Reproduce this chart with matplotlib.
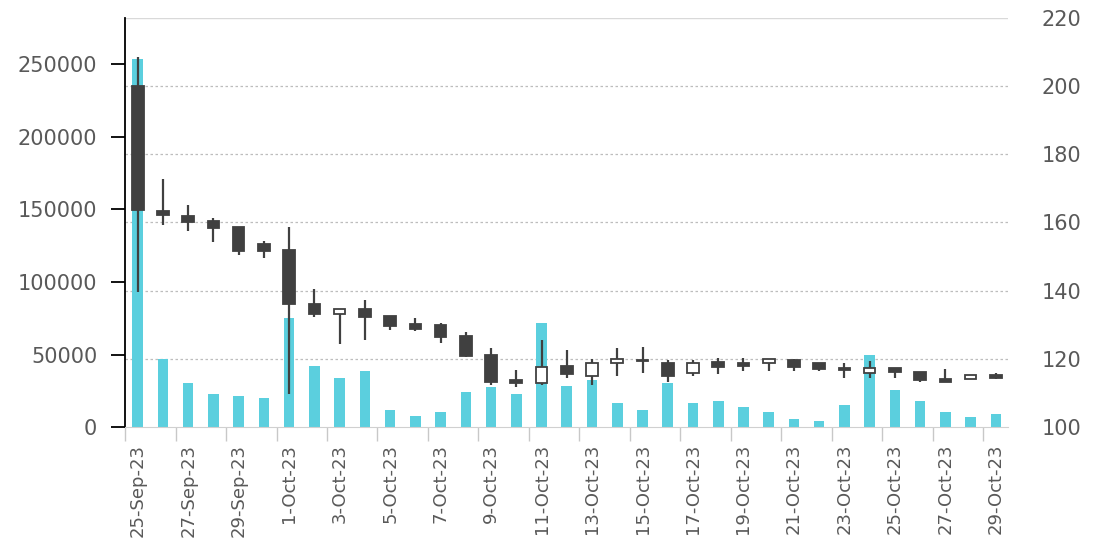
import numpy as np
import pandas as pd
import matplotlib
matplotlib.use("Agg")
import matplotlib.pyplot as plt

# 日期（类别）
dates = pd.date_range("2023-09-25", "2023-10-29", freq="D")
date_labels = [d.strftime("%-d-%b-%y") for d in dates]

# 成交量（左轴）
volume = [254000, 46800, 30100, 22500, 21300, 20200, 75500, 42200, 33500, 38600,
          11500, 7800, 10100, 23900, 27300, 22500, 71800, 28500, 32400, 16300,
          11700, 30100, 16300, 17900, 14000, 10100, 5500, 4100, 15200, 49600,
          25300, 17900, 10100, 6700, 9200]

# K线（右轴）
open_ = [200.0, 163.4, 161.9, 160.4, 158.7, 153.6, 151.9, 136.1, 133.3, 134.6,
         132.6, 130.2, 129.9, 126.8, 121.1, 113.8, 113.0, 117.9, 115.0, 118.7,
         119.8, 118.9, 115.9, 119.1, 118.7, 118.7, 119.6, 118.9, 117.4, 116.0,
         117.4, 116.2, 114.1, 114.0, 115.2]
high = [208.6, 172.7, 165.1, 161.2, 158.7, 154.7, 158.7, 140.5, 134.5, 137.2,
        132.6, 132.1, 130.4, 128.0, 123.1, 116.7, 125.5, 122.6, 119.9, 123.1,
        123.5, 119.8, 119.6, 120.4, 120.4, 119.9, 119.9, 118.9, 118.9, 119.4,
        117.4, 116.2, 116.9, 115.2, 116.0]
low = [139.5, 159.4, 157.5, 154.3, 150.4, 149.5, 109.6, 132.3, 124.5, 125.5,
       128.4, 128.2, 124.8, 120.6, 112.3, 111.8, 112.3, 114.3, 112.3, 115.0,
       115.9, 113.3, 115.0, 115.5, 116.4, 116.4, 116.4, 116.4, 114.5, 114.5,
       114.5, 113.3, 113.3, 114.0, 114.1]
close = [163.6, 162.2, 160.0, 158.4, 151.7, 151.7, 136.0, 133.3, 134.5, 132.3,
         129.7, 128.9, 126.5, 120.8, 113.3, 112.8, 117.7, 115.5, 118.9, 119.9,
         119.4, 115.0, 118.9, 117.7, 118.0, 119.9, 117.7, 117.0, 116.7, 117.4,
         116.2, 113.8, 113.3, 115.2, 114.5]

BAR_C = "#5bcfde"
DARK = "#404040"
TXT = "#595959"

fig = plt.figure(figsize=(11.07, 5.42), dpi=100)
rect = [0.113, 0.212, 0.798, 0.755]
x = np.arange(len(dates))
xlim = (-0.5, len(dates) - 0.5)

# 背景网格层
axg = fig.add_axes(rect)
axg.set_xlim(*xlim)
axg.set_ylim(100, 220)
for v in [120, 140, 160, 180, 200]:
    axg.axhline(v, color="#bdbdbd", lw=0.9, ls=(0, (2, 2)))
axg.axhline(220, color="#d9d9d9", lw=1.0)
for s in axg.spines.values():
    s.set_visible(False)
axg.set_xticks([])
axg.set_yticks([])

# 成交量柱
ax = fig.add_axes(rect)
ax.patch.set_visible(False)
ax.bar(x, volume, width=0.42, color=BAR_C, zorder=2)
ax.set_xlim(*xlim)
ax.set_ylim(0, 282000)
ax.set_yticks(range(0, 250001, 50000))
ax.tick_params(axis="y", direction="out", length=10, width=1.3, color="black",
               labelsize=15, labelcolor=TXT, pad=10)
for s in ["top", "right"]:
    ax.spines[s].set_visible(False)
ax.spines["left"].set_linewidth(1.3)
ax.spines["bottom"].set_color("#d0d0d0")
ax.set_xticks(x[::2])
ax.set_xticklabels(date_labels[::2], rotation=90, va="top", ha="center")
ax.set_xticks(np.arange(-0.5, len(dates) - 1, 2), minor=True)
ax.tick_params(axis="x", which="major", length=0, labelsize=13, labelcolor=TXT, pad=12)
ax.tick_params(axis="x", which="minor", length=10, color="#c8c8c8", width=1)

# K线
ax2 = ax.twinx()
ax2.patch.set_visible(False)
ax2.set_xlim(*xlim)
ax2.set_ylim(100, 220)
ax2.set_yticks(range(100, 221, 20))
ax2.tick_params(axis="y", length=0, labelsize=15, labelcolor=TXT, pad=24)
for s in ax2.spines.values():
    s.set_visible(False)
ax2.vlines(x, low, high, color=DARK, lw=1.6, zorder=3)
o = np.array(open_)
c = np.array(close)
up = c >= o
body_bottom = np.minimum(o, c)
body_h = np.maximum(np.abs(c - o), 0.4)
ax2.bar(x, body_h, bottom=body_bottom, width=0.46,
        color=np.where(up, "white", DARK), edgecolor=DARK, linewidth=1.3, zorder=4)

fig.savefig("out.png", dpi=100)
